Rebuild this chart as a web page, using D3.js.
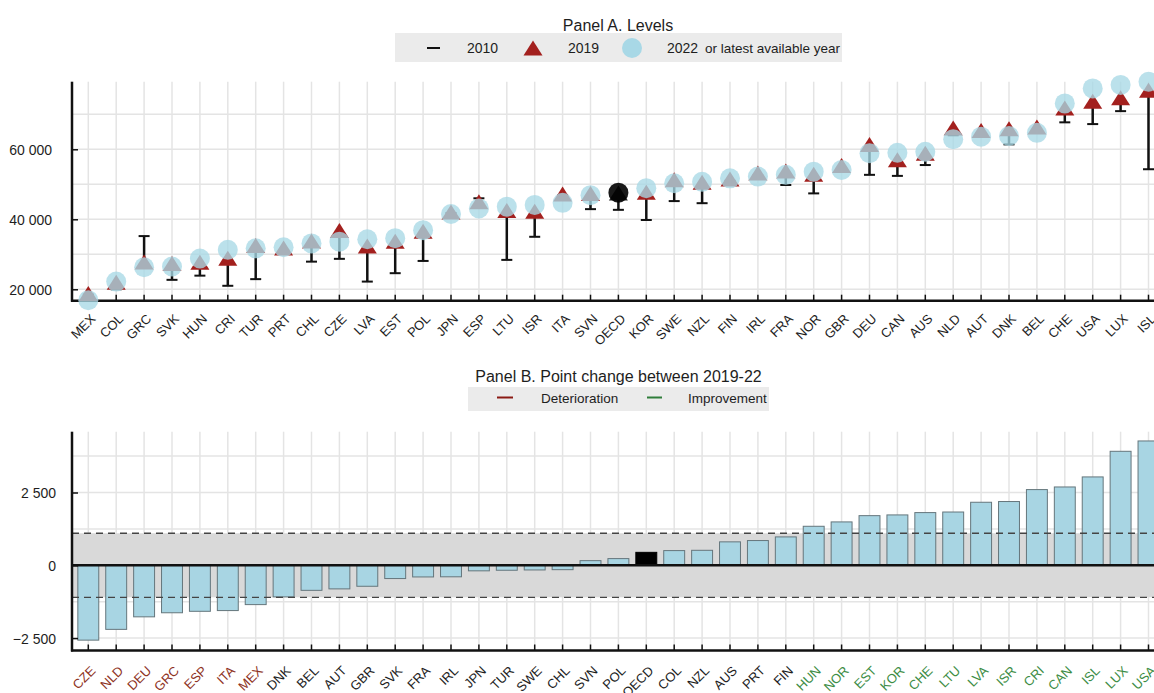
<!DOCTYPE html>
<html>
<head>
<meta charset="utf-8">
<script src="https://cdn.jsdelivr.net/npm/d3@7"></script>
<style>
  html, body { margin: 0; padding: 0; background: #fff; }
  svg { display: block; font-family: Arial, "Liberation Sans", sans-serif; }
</style>
</head>
<body>
<svg id="chart" width="1154" height="693"></svg>
<script>
// ---- Panel A: levels by country (sorted by latest value) ----
const levelCountries = ["MEX","COL","GRC","SVK","HUN","CRI","TUR","PRT","CHL","CZE","LVA","EST","POL","JPN","ESP","LTU","ISR","ITA","SVN","OECD","KOR","SWE","NZL","FIN","IRL","FRA","NOR","GBR","DEU","CAN","AUS","NLD","AUT","DNK","BEL","CHE","USA","LUX","ISL"];
const level2010 = [18500,20000,35200,22700,23900,21000,22900,31200,27900,28700,22200,24600,28100,41800,46000,28400,35000,46800,42900,42700,39800,45200,44600,51000,52500,49800,47400,54500,52700,52400,55500,64000,64500,61400,65000,67700,67200,70900,54300];
const level2019 = [18800,22000,27800,27400,27700,28900,32500,31800,33800,36800,32400,33700,36600,42100,45000,42500,42300,47200,47400,47500,47700,51300,50600,51500,53200,53800,52900,55400,61400,57000,58900,66100,65400,65900,66400,71800,73700,74700,76900];
const level2022 = [16900,22200,26300,26500,28800,31300,31700,32000,33100,33600,34300,34600,36900,41500,43100,43600,44100,44700,46900,47600,48900,50300,50700,51700,52200,52700,53600,54100,58900,59000,59300,62900,63600,63800,64700,73100,77400,78400,79300];
const levelTicks = [20000, 40000, 60000];
const levelGrid = [20000, 30000, 40000, 50000, 60000, 70000];

// ---- Panel B: point change 2019-22 ----
const changeCountries = ["CZE","NLD","DEU","GRC","ESP","ITA","MEX","DNK","BEL","AUT","GBR","SVK","FRA","IRL","JPN","TUR","SWE","CHL","SVN","POL","OECD","COL","NZL","AUS","PRT","FIN","HUN","NOR","EST","KOR","CHE","LTU","LVA","ISR","CRI","CAN","ISL","LUX","USA"];
const changeValues = [-2570,-2200,-1770,-1630,-1580,-1555,-1350,-1085,-860,-810,-720,-455,-400,-395,-190,-170,-160,-150,160,230,445,505,515,805,850,975,1340,1490,1705,1730,1810,1830,2165,2190,2600,2690,3035,3915,4270];
const changeBand = 1100;
const changeTicks = [-2500, 0, 2500];
const changeGrid = [-2500, -1250, 1250, 2500, 3750];

const C = {
  grid: "#e4e4e4",
  red: "#a3201e",
  blue: "#a8d8e6",
  bar: "#a8d5e3",
  barStroke: "#65767c",
  text: "#1e1e1e",
  legendBg: "#ebebeb",
  det: "#8b1a14",
  imp: "#2f7d3a",
  detText: "#8e3324",
  impText: "#3d8d45"
};

const svg = d3.select("#chart");
const fmt = v => d3.format(",")(v).replace(/,/g, " ");
const left = 72, rightEdge = 1162.45, bandLeft = 74.35;

// ================= Panel A =================
const gA = svg.append("g");
const xA = d3.scaleBand().domain(levelCountries).range([bandLeft, rightEdge]).padding(0);
const yA = d3.scaleLinear().domain([16740, 79310]).range([300.7, 81.7]);
const cxA = c => xA(c) + xA.bandwidth() / 2;

gA.append("text").attr("x", 618).attr("y", 30.5).attr("text-anchor", "middle")
  .attr("font-size", 16).attr("fill", C.text).text("Panel A. Levels");

// legend
const legA = gA.append("g");
legA.append("rect").attr("x", 395).attr("y", 33).attr("width", 447).attr("height", 29).attr("fill", C.legendBg);
legA.append("line").attr("x1", 427).attr("x2", 440).attr("y1", 48).attr("y2", 48).attr("stroke", "#111").attr("stroke-width", 2);
legA.append("text").attr("x", 467).attr("y", 53).attr("font-size", 14).attr("fill", C.text).text("2010");
legA.append("path").attr("d", "M0,-7.5L9.5,7.5L-9.5,7.5Z").attr("transform", "translate(533,48)").attr("fill", C.red);
legA.append("text").attr("x", 568).attr("y", 53).attr("font-size", 14).attr("fill", C.text).text("2019");
legA.append("circle").attr("cx", 632).attr("cy", 48).attr("r", 10).attr("fill", C.blue);
legA.append("text").attr("x", 667).attr("y", 53).attr("font-size", 14).attr("fill", C.text).text("2022");
legA.append("text").attr("x", 705).attr("y", 53).attr("font-size", 13.5).attr("fill", C.text).text("or latest available year");

// gridlines
gA.append("g").selectAll("line.h").data(levelGrid).join("line")
  .attr("x1", left).attr("x2", 1154).attr("y1", d => yA(d)).attr("y2", d => yA(d))
  .attr("stroke", C.grid).attr("stroke-width", 1.5);
gA.append("g").selectAll("line.v").data(levelCountries).join("line")
  .attr("x1", d => cxA(d)).attr("x2", d => cxA(d)).attr("y1", yA.range()[1]).attr("y2", yA.range()[0])
  .attr("stroke", C.grid).attr("stroke-width", 1.5);

// axes
const axAy = gA.append("g").attr("transform", `translate(${left},0)`)
  .call(d3.axisRight(yA).tickValues(levelTicks).tickSize(6).tickFormat(fmt));
axAy.select(".domain").remove();
axAy.selectAll(".tick line").attr("stroke", "#111").attr("stroke-width", 1.5);
axAy.selectAll(".tick text").attr("x", -20).attr("text-anchor", "end").attr("font-size", 14).attr("fill", C.text).attr("dy", "0.35em");
gA.append("line").attr("x1", left).attr("x2", left).attr("y1", yA.range()[1]).attr("y2", yA.range()[0] + 1)
  .attr("stroke", "#111").attr("stroke-width", 2.5);

const axAx = gA.append("g").attr("transform", `translate(0,${yA.range()[0]})`)
  .call(d3.axisTop(xA).tickSize(6).tickFormat(""));
axAx.select(".domain").remove();
axAx.selectAll(".tick line").attr("stroke", "#111").attr("stroke-width", 1.5);
gA.append("line").attr("x1", left - 1).attr("x2", 1154).attr("y1", yA.range()[0]).attr("y2", yA.range()[0])
  .attr("stroke", "#111").attr("stroke-width", 2.5);

gA.append("g").selectAll("text").data(levelCountries).join("text")
  .attr("transform", d => `translate(${cxA(d) + 8},${yA.range()[0] + 19}) rotate(-45)`)
  .attr("text-anchor", "end").attr("font-size", 13).attr("fill", C.text).text(d => d);

// marks
const rowsA = levelCountries.map((c, i) => ({ c, a: level2010[i], b: level2019[i], d: level2022[i] }));
const marks = gA.append("g");
marks.selectAll("line.stem").data(rowsA).join("line")
  .attr("x1", d => cxA(d.c)).attr("x2", d => cxA(d.c))
  .attr("y1", d => yA(d.a)).attr("y2", d => yA(d.b))
  .attr("stroke", "#111").attr("stroke-width", 2.5);
marks.selectAll("line.cap").data(rowsA).join("line")
  .attr("x1", d => cxA(d.c) - 5.5).attr("x2", d => cxA(d.c) + 5.5)
  .attr("y1", d => yA(d.a)).attr("y2", d => yA(d.a))
  .attr("stroke", "#111").attr("stroke-width", 2);
marks.selectAll("path.tri").data(rowsA).join("path")
  .attr("d", "M0,-7.5L9.5,7.5L-9.5,7.5Z")
  .attr("transform", d => `translate(${cxA(d.c)},${yA(d.b)})`)
  .attr("fill", d => d.c === "OECD" ? "#2a2a2a" : C.red);
marks.selectAll("circle").data(rowsA).join("circle")
  .attr("cx", d => cxA(d.c)).attr("cy", d => yA(d.d)).attr("r", 10)
  .attr("fill", d => d.c === "OECD" ? "#000" : C.blue)
  .attr("fill-opacity", d => d.c === "OECD" ? 0.9 : 0.78);

// ================= Panel B =================
const gB = svg.append("g");
const xB = d3.scaleBand().domain(changeCountries).range([bandLeft, rightEdge]).paddingInner(0.25).paddingOuter(0.125);
const yB = d3.scaleLinear().domain([-2926, 4588]).range([650.5, 431.7]);
const cxB = c => xB(c) + xB.bandwidth() / 2;

gB.append("text").attr("x", 618.5).attr("y", 381.5).attr("text-anchor", "middle")
  .attr("font-size", 16).attr("fill", C.text).text("Panel B. Point change between 2019-22");

const legB = gB.append("g");
legB.append("rect").attr("x", 468).attr("y", 387).attr("width", 301).attr("height", 24).attr("fill", C.legendBg);
legB.append("line").attr("x1", 497).attr("x2", 513).attr("y1", 397.5).attr("y2", 397.5).attr("stroke", C.det).attr("stroke-width", 2);
legB.append("text").attr("x", 541).attr("y", 403).attr("font-size", 13.5).attr("fill", C.text).text("Deterioration");
legB.append("line").attr("x1", 647).attr("x2", 662).attr("y1", 397.5).attr("y2", 397.5).attr("stroke", C.imp).attr("stroke-width", 2);
legB.append("text").attr("x", 688).attr("y", 403).attr("font-size", 13.5).attr("fill", C.text).text("Improvement");

// gridlines
gB.append("g").selectAll("line").data(changeGrid).join("line")
  .attr("x1", left).attr("x2", 1154).attr("y1", d => yB(d)).attr("y2", d => yB(d))
  .attr("stroke", C.grid).attr("stroke-width", 1.5);
gB.append("g").selectAll("line").data(changeCountries).join("line")
  .attr("x1", d => cxB(d)).attr("x2", d => cxB(d)).attr("y1", yB.range()[1]).attr("y2", yB.range()[0])
  .attr("stroke", C.grid).attr("stroke-width", 1.5);

// band of typical change
gB.append("rect").attr("x", left).attr("width", 1154 - left)
  .attr("y", yB(changeBand)).attr("height", yB(-changeBand) - yB(changeBand))
  .attr("fill", "#d9d9d9");

// bars
gB.append("g").selectAll("rect").data(changeCountries.map((c, i) => ({ c, v: changeValues[i] }))).join("rect")
  .attr("x", d => xB(d.c)).attr("width", xB.bandwidth())
  .attr("y", d => yB(Math.max(0, d.v))).attr("height", d => Math.abs(yB(d.v) - yB(0)))
  .attr("fill", d => d.c === "OECD" ? "#000" : C.bar)
  .attr("stroke", d => d.c === "OECD" ? "#000" : C.barStroke).attr("stroke-width", 1);

// dashed band limits
gB.append("g").selectAll("line").data([changeBand, -changeBand]).join("line")
  .attr("x1", left).attr("x2", 1154).attr("y1", d => yB(d)).attr("y2", d => yB(d))
  .attr("stroke", "#444").attr("stroke-width", 1.4).attr("stroke-dasharray", "7,5");

// zero line
gB.append("line").attr("x1", left).attr("x2", 1154).attr("y1", yB(0)).attr("y2", yB(0))
  .attr("stroke", "#111").attr("stroke-width", 2.5);

// axes
const axBy = gB.append("g").attr("transform", `translate(${left},0)`)
  .call(d3.axisRight(yB).tickValues(changeTicks).tickSize(6).tickFormat(fmt));
axBy.select(".domain").remove();
axBy.selectAll(".tick line").attr("stroke", "#111").attr("stroke-width", 1.5);
axBy.selectAll(".tick text").attr("x", -16).attr("text-anchor", "end").attr("font-size", 14).attr("fill", C.text).attr("dy", "0.35em");
gB.append("line").attr("x1", left).attr("x2", left).attr("y1", yB.range()[1]).attr("y2", yB.range()[0] + 1)
  .attr("stroke", "#111").attr("stroke-width", 2.5);

const axBx = gB.append("g").attr("transform", `translate(0,${yB.range()[0]})`)
  .call(d3.axisTop(xB).tickSize(6).tickFormat(""));
axBx.select(".domain").remove();
axBx.selectAll(".tick line").attr("stroke", "#111").attr("stroke-width", 1.5);
gB.append("line").attr("x1", left - 1).attr("x2", 1154).attr("y1", yB.range()[0]).attr("y2", yB.range()[0])
  .attr("stroke", "#111").attr("stroke-width", 2.5);

gB.append("g").selectAll("text").data(changeCountries.map((c, i) => ({ c, v: changeValues[i] }))).join("text")
  .attr("transform", d => `translate(${cxB(d.c) + 8},${yB.range()[0] + 21}) rotate(-45)`)
  .attr("text-anchor", "end").attr("font-size", 13)
  .attr("fill", d => d.v < -changeBand ? C.detText : d.v > changeBand ? C.impText : C.text)
  .text(d => d.c);
</script>
</body>
</html>
